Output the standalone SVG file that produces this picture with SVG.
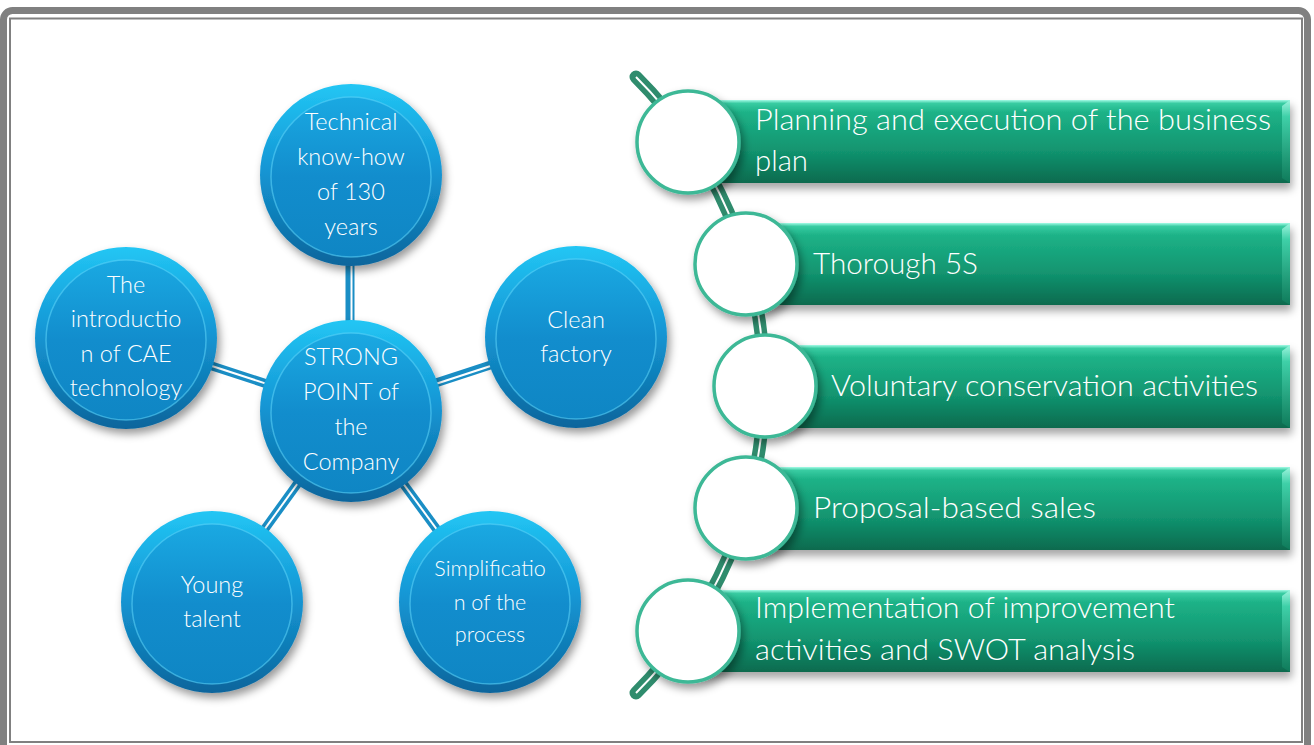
<svg xmlns="http://www.w3.org/2000/svg" width="1314" height="745" viewBox="0 0 1314 745">
<style>
.ctext{font-family:"Lato","Noto Sans","Liberation Sans",sans-serif;font-weight:300;font-size:23.5px;fill:#ffffff;text-anchor:middle;}
.small{font-size:21.5px;}
.btext{font-family:"Lato","Noto Sans","Liberation Sans",sans-serif;font-weight:300;font-size:30px;fill:#ffffff;}
.outer{fill:url(#gBlue);filter:url(#shadow);}
.inner{fill:url(#gBlueIn);stroke:#5fd6fa;stroke-opacity:0.55;stroke-width:1.5;}
.bar{fill:url(#gGreen);filter:url(#shadowB);}
.bevel{fill:url(#gBevel);}
.wcirc{fill:#ffffff;stroke:#3db896;stroke-width:3.5;filter:url(#shadow);}
.bline{stroke:#1a8ec5;stroke-width:9;fill:none;}
.wline{stroke:#ffffff;stroke-width:2;fill:none;}
.gline{stroke:#2f8c6d;stroke-width:13;fill:none;stroke-linecap:round;}
</style>
<defs>
<linearGradient id="gBlue" x1="0" y1="0" x2="0" y2="1">
<stop offset="0" stop-color="#22c6f4"/>
<stop offset="0.45" stop-color="#1598d6"/>
<stop offset="1" stop-color="#0a659c"/>
</linearGradient>
<linearGradient id="gBlueIn" x1="0" y1="0" x2="0" y2="1">
<stop offset="0" stop-color="#1aa9e2"/>
<stop offset="0.5" stop-color="#128dcd"/>
<stop offset="1" stop-color="#0f86c4"/>
</linearGradient>
<linearGradient id="gGreen" x1="0" y1="0" x2="0" y2="1">
<stop offset="0" stop-color="#a4fbe6"/>
<stop offset="0.04" stop-color="#38cca2"/>
<stop offset="0.15" stop-color="#1db287"/>
<stop offset="0.6" stop-color="#129570"/>
<stop offset="1" stop-color="#0a6a4e"/>
</linearGradient>
<linearGradient id="gBevel" x1="0" y1="0" x2="0" y2="1">
<stop offset="0" stop-color="#9ff5df"/>
<stop offset="0.2" stop-color="#3fd0a8"/>
<stop offset="1" stop-color="#0f7a5a"/>
</linearGradient>
<filter id="shadow" x="-20%" y="-20%" width="150%" height="150%">
<feDropShadow dx="3" dy="5" stdDeviation="4" flood-color="#000000" flood-opacity="0.4"/>
</filter>
<filter id="shadowB" x="-5%" y="-20%" width="110%" height="150%">
<feDropShadow dx="2" dy="6" stdDeviation="4" flood-color="#000000" flood-opacity="0.35"/>
</filter>
</defs>

<rect x="0" y="0" width="1314" height="745" fill="#ffffff"/>
<g id="frame">
<rect x="3.5" y="10.5" width="1304" height="745" rx="9" fill="#ffffff" stroke="#808080" stroke-width="7"/>
<rect x="10" y="18.5" width="1292" height="723.5" fill="none" stroke="#808080" stroke-width="2"/>
</g>

<g id="connectors">
<line class="bline" x1="350" y1="411" x2="350" y2="175"/>
<line class="wline" x1="351.5" y1="411" x2="351.5" y2="175"/>
<line class="bline" x1="350" y1="411" x2="126" y2="338"/>
<line class="wline" x1="350" y1="411" x2="126" y2="338"/>
<line class="bline" x1="350" y1="411" x2="576" y2="337"/>
<line class="wline" x1="350" y1="412" x2="576" y2="338"/>
<line class="bline" x1="350" y1="411" x2="212" y2="602"/>
<line class="wline" x1="350" y1="411" x2="212" y2="602"/>
<line class="bline" x1="350" y1="411" x2="490" y2="602"/>
<line class="wline" x1="350" y1="411" x2="490" y2="602"/>
<path class="gline" d="M 636 77 A 434.6 434.6 0 0 1 636 693"/>
<path class="wline" d="M 636 77 A 434.6 434.6 0 0 1 636 693"/>
</g>

<g id="node-center">
<circle class="outer" cx="351" cy="411" r="91"/>
<circle class="inner" cx="351" cy="413" r="80"/>
<text class="ctext" x="351" y="365">STRONG</text>
<text class="ctext" x="351" y="400">POINT of</text>
<text class="ctext" x="351" y="435">the</text>
<text class="ctext" x="351" y="470">Company</text>
</g>
<g id="node-technical">
<circle class="outer" cx="351" cy="175" r="91"/>
<circle class="inner" cx="351" cy="177" r="80"/>
<text class="ctext" x="351" y="130">Technical</text>
<text class="ctext" x="351" y="165">know-how</text>
<text class="ctext" x="351" y="200">of 130</text>
<text class="ctext" x="351" y="235">years</text>
</g>
<g id="node-cae">
<circle class="outer" cx="126" cy="338" r="91"/>
<circle class="inner" cx="126" cy="340" r="80"/>
<text class="ctext" x="126" y="293">The</text>
<text class="ctext" x="126" y="327">introductio</text>
<text class="ctext" x="126" y="362">n of CAE</text>
<text class="ctext" x="126" y="396">technology</text>
</g>
<g id="node-clean">
<circle class="outer" cx="576" cy="337" r="91"/>
<circle class="inner" cx="576" cy="339" r="80"/>
<text class="ctext" x="576" y="328">Clean</text>
<text class="ctext" x="576" y="362">factory</text>
</g>
<g id="node-young">
<circle class="outer" cx="212" cy="602" r="91"/>
<circle class="inner" cx="212" cy="604" r="80"/>
<text class="ctext" x="212" y="593">Young</text>
<text class="ctext" x="212" y="627">talent</text>
</g>
<g id="node-simplification">
<circle class="outer" cx="490" cy="602" r="91"/>
<circle class="inner" cx="490" cy="604" r="80"/>
<text class="ctext small" x="490" y="576">Simplificatio</text>
<text class="ctext small" x="490" y="610">n of the</text>
<text class="ctext small" x="490" y="642">process</text>
</g>

<g id="item-1">
<rect class="bar" x="700" y="100" width="590" height="83"/>
<polygon class="bevel" points="1282,106 1290,100 1290,183 1282,178"/>
<circle class="wcirc" cx="688" cy="142" r="51"/>
<text class="btext" x="755" y="130" textLength="516" lengthAdjust="spacingAndGlyphs">Planning and execution of the business</text>
<text class="btext" x="755" y="171" textLength="53" lengthAdjust="spacingAndGlyphs">plan</text>
</g>
<g id="item-2">
<rect class="bar" x="760" y="223" width="530" height="82"/>
<polygon class="bevel" points="1282,229 1290,223 1290,305 1282,300"/>
<circle class="wcirc" cx="746" cy="264" r="51"/>
<text class="btext" x="813" y="274" textLength="165" lengthAdjust="spacingAndGlyphs">Thorough 5S</text>
</g>
<g id="item-3">
<rect class="bar" x="778" y="345" width="512" height="83"/>
<polygon class="bevel" points="1282,351 1290,345 1290,428 1282,423"/>
<circle class="wcirc" cx="765" cy="386" r="51"/>
<text class="btext" x="831" y="396" textLength="427" lengthAdjust="spacingAndGlyphs">Voluntary conservation activities</text>
</g>
<g id="item-4">
<rect class="bar" x="760" y="467" width="530" height="83"/>
<polygon class="bevel" points="1282,473 1290,467 1290,550 1282,545"/>
<circle class="wcirc" cx="746" cy="508" r="51"/>
<text class="btext" x="813" y="518" textLength="283" lengthAdjust="spacingAndGlyphs">Proposal-based sales</text>
</g>
<g id="item-5">
<rect class="bar" x="700" y="590" width="590" height="82"/>
<polygon class="bevel" points="1282,596 1290,590 1290,672 1282,667"/>
<circle class="wcirc" cx="688" cy="631" r="51"/>
<text class="btext" x="755" y="618" textLength="420" lengthAdjust="spacingAndGlyphs">Implementation of improvement</text>
<text class="btext" x="755" y="660" textLength="380" lengthAdjust="spacingAndGlyphs">activities and SWOT analysis</text>
</g>
</svg>
